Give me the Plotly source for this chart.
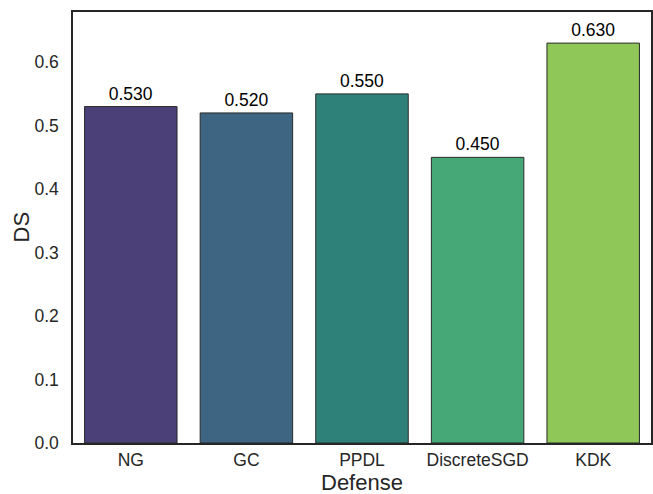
import plotly.graph_objects as go

categories = ["NG", "GC", "PPDL", "DiscreteSGD", "KDK"]
values = [0.530, 0.520, 0.550, 0.450, 0.630]
colors = ["#4b4078", "#3e6581", "#2e8179", "#46a876", "#8fc759"]
yticks = [0.0, 0.1, 0.2, 0.3, 0.4, 0.5, 0.6]
x_title = "Defense"
y_title = "DS"

font = "Liberation Sans, Arial"

fig = go.Figure(go.Bar(
    x=categories, y=values,
    marker=dict(color=colors, line=dict(color="#2a2a2a", width=1)),
    width=0.8,
    text=[f"{v:.3f}" for v in values],
    textposition="outside",
    textfont=dict(family=font, size=17.5, color="black"),
    cliponaxis=False,
))

fig.update_layout(
    width=653, height=494,
    margin=dict(l=73, r=0, t=12, b=51),
    plot_bgcolor="white", paper_bgcolor="white",
    showlegend=False,
    font=dict(family=font, color="#262626"),
    xaxis=dict(
        range=[-0.5, 4.5],
        showline=True, linecolor="#262626", linewidth=1.5, mirror=True,
        showgrid=False, ticks="",
        tickfont=dict(size=17.5, color="#262626"),
        ticklabelstandoff=0,
    ),
    yaxis=dict(
        range=[0, 0.679],
        showline=True, linecolor="#262626", linewidth=1.5, mirror=True,
        showgrid=False, ticks="", zeroline=False,
        tickvals=yticks, ticktext=[f"{t:.1f}" for t in yticks],
        tickfont=dict(size=17.5, color="#262626"),
        ticklabelstandoff=9,
    ),
    annotations=[
        dict(text=x_title, xref="paper", yref="paper", x=0.5, y=0,
             xanchor="center", yanchor="top", yshift=-26, borderpad=0,
             showarrow=False, font=dict(family=font, size=22, color="#262626")),
        dict(text=y_title, xref="paper", yref="paper", x=0, y=0.5,
             xanchor="center", yanchor="middle", xshift=-52, textangle=-90,
             showarrow=False, font=dict(family=font, size=22, color="#262626")),
    ],
)

fig.write_html("out.html", config={"displayModeBar": False},
               post_script="document.body.style.margin='0';document.body.style.padding='0';")
